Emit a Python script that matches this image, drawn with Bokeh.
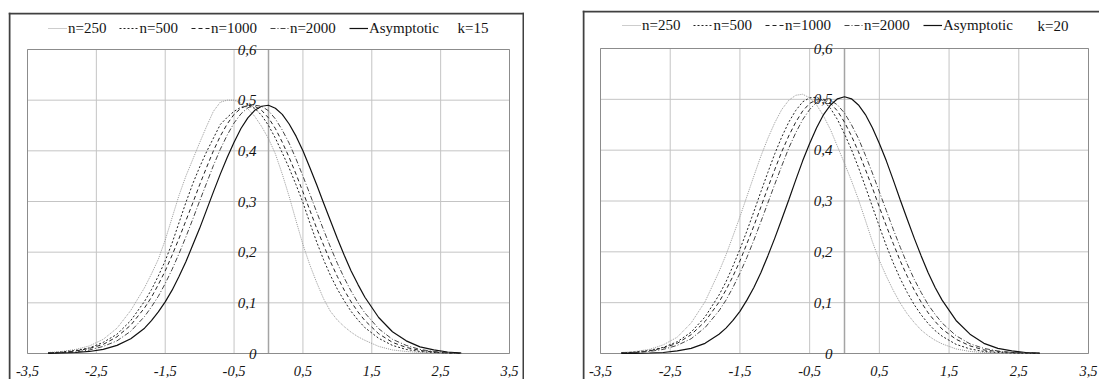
from bokeh.plotting import figure
from bokeh.models import Legend, LegendItem, Range1d
from bokeh.core.properties import value
from bokeh.layouts import row
from bokeh.embed import file_html
from bokeh.resources import INLINE

# ---- data -------------------------------------------------------------
x_grid = [-3.2, -3.0, -2.8, -2.6, -2.4, -2.2, -2.0, -1.8,
          -1.7, -1.6, -1.5, -1.4, -1.3, -1.2, -1.1, -1.0, -0.9, -0.8, -0.7,
          -0.6, -0.5, -0.4, -0.3, -0.2, -0.1, 0.0, 0.1, 0.2, 0.3, 0.4, 0.5,
          0.6, 0.7, 0.8, 0.9, 1.0, 1.1, 1.2, 1.3,
          1.4, 1.6, 1.8, 2.0, 2.2, 2.4, 2.6, 2.8]

series_names = ["n=250", "n=500", "n=1000", "n=2000", "Asymptotic"]

# k = 15
k15_n250 = [0.002, 0.004, 0.008, 0.015, 0.028, 0.050, 0.085, 0.130,
            0.157, 0.186, 0.224, 0.268, 0.312, 0.350, 0.383, 0.416, 0.448, 0.478, 0.496,
            0.500, 0.500, 0.494, 0.483, 0.468, 0.448, 0.424, 0.394, 0.354, 0.310, 0.262, 0.215,
            0.175, 0.140, 0.108, 0.083, 0.066, 0.053, 0.042, 0.033,
            0.026, 0.014, 0.007, 0.004, 0.002, 0.001, 0.0005, 0.0002]
k15_n500 = [0.001, 0.003, 0.006, 0.011, 0.022, 0.038, 0.065, 0.103,
            0.126, 0.153, 0.183, 0.218, 0.258, 0.298, 0.335, 0.368, 0.398, 0.425, 0.452,
            0.466, 0.478, 0.486, 0.489, 0.484, 0.470, 0.450, 0.425, 0.396, 0.366, 0.333, 0.298,
            0.258, 0.220, 0.185, 0.154, 0.127, 0.104, 0.083, 0.066,
            0.051, 0.030, 0.016, 0.008, 0.004, 0.002, 0.001, 0.0003]
k15_n1000 = [0.001, 0.002, 0.005, 0.010, 0.018, 0.033, 0.056, 0.090,
             0.111, 0.136, 0.163, 0.194, 0.227, 0.262, 0.297, 0.333, 0.367, 0.400, 0.429,
             0.453, 0.472, 0.484, 0.490, 0.488, 0.480, 0.465, 0.444, 0.417, 0.387, 0.354, 0.319,
             0.283, 0.247, 0.214, 0.181, 0.152, 0.125, 0.102, 0.082,
             0.065, 0.039, 0.022, 0.012, 0.006, 0.003, 0.001, 0.0005]
k15_n2000 = [0.001, 0.002, 0.003, 0.007, 0.014, 0.025, 0.044, 0.073,
             0.092, 0.113, 0.138, 0.166, 0.197, 0.230, 0.265, 0.301, 0.336, 0.371, 0.403,
             0.431, 0.455, 0.473, 0.485, 0.490, 0.488, 0.479, 0.463, 0.441, 0.415, 0.384, 0.350,
             0.315, 0.279, 0.244, 0.210, 0.178, 0.149, 0.123, 0.100,
             0.080, 0.049, 0.028, 0.016, 0.008, 0.004, 0.002, 0.001]
k15_asym = [0.0003, 0.001, 0.002, 0.004, 0.008, 0.016, 0.029, 0.050,
            0.065, 0.082, 0.102, 0.125, 0.152, 0.181, 0.214, 0.247, 0.283, 0.319, 0.354,
            0.387, 0.417, 0.444, 0.465, 0.480, 0.488, 0.490, 0.484, 0.472, 0.453, 0.429, 0.400,
            0.367, 0.333, 0.297, 0.262, 0.227, 0.194, 0.163, 0.136,
            0.111, 0.071, 0.043, 0.025, 0.013, 0.007, 0.003, 0.001]

# k = 20
k20_n250 = [0.002, 0.004, 0.008, 0.017, 0.032, 0.060, 0.102, 0.161,
            0.194, 0.231, 0.269, 0.309, 0.349, 0.388, 0.423, 0.454, 0.480, 0.498, 0.508,
            0.510, 0.503, 0.489, 0.467, 0.440, 0.407, 0.374, 0.340, 0.303, 0.262, 0.220, 0.183,
            0.152, 0.124, 0.099, 0.078, 0.061, 0.046, 0.035, 0.026,
            0.019, 0.009, 0.004, 0.002, 0.001, 0.0004, 0.0002, 0.0001]
k20_n500 = [0.001, 0.003, 0.006, 0.012, 0.023, 0.042, 0.072, 0.115,
            0.141, 0.172, 0.205, 0.241, 0.279, 0.318, 0.356, 0.393, 0.426, 0.455, 0.478,
            0.495, 0.503, 0.504, 0.497, 0.482, 0.460, 0.432, 0.401, 0.366, 0.328, 0.289, 0.250,
            0.212, 0.178, 0.147, 0.120, 0.096, 0.076, 0.059, 0.045,
            0.034, 0.018, 0.009, 0.004, 0.002, 0.001, 0.0003, 0.0001]
k20_n1000 = [0.001, 0.002, 0.005, 0.011, 0.020, 0.037, 0.063, 0.101,
             0.125, 0.152, 0.182, 0.216, 0.251, 0.288, 0.326, 0.362, 0.397, 0.428, 0.455,
             0.477, 0.492, 0.499, 0.499, 0.492, 0.477, 0.455, 0.428, 0.397, 0.362, 0.326, 0.288,
             0.251, 0.216, 0.182, 0.152, 0.125, 0.101, 0.080, 0.063,
             0.048, 0.028, 0.015, 0.007, 0.004, 0.002, 0.001, 0.0003]
k20_n2000 = [0.001, 0.002, 0.004, 0.008, 0.016, 0.029, 0.051, 0.084,
             0.105, 0.130, 0.158, 0.189, 0.223, 0.259, 0.296, 0.333, 0.369, 0.404, 0.434,
             0.460, 0.480, 0.494, 0.500, 0.498, 0.489, 0.473, 0.450, 0.423, 0.390, 0.355, 0.318,
             0.281, 0.244, 0.209, 0.176, 0.146, 0.120, 0.096, 0.077,
             0.060, 0.035, 0.019, 0.010, 0.005, 0.002, 0.001, 0.0004]
k20_asym = [0.0001, 0.0004, 0.001, 0.002, 0.005, 0.010, 0.020, 0.038,
            0.050, 0.065, 0.083, 0.105, 0.130, 0.159, 0.192, 0.227, 0.264, 0.302, 0.341,
            0.379, 0.413, 0.444, 0.470, 0.489, 0.501, 0.505, 0.501, 0.489, 0.470, 0.444, 0.413,
            0.379, 0.341, 0.302, 0.264, 0.227, 0.192, 0.159, 0.130,
            0.105, 0.065, 0.038, 0.020, 0.010, 0.005, 0.002, 0.001]

x_ticks = [-3.5, -2.5, -1.5, -0.5, 0.5, 1.5, 2.5, 3.5]
x_tick_labels = ["-3,5", "-2,5", "-1,5", "-0,5", "0,5", "1,5", "2,5", "3,5"]
y_ticks = [0.0, 0.1, 0.2, 0.3, 0.4, 0.5, 0.6]
y_tick_labels = ["0", "0,1", "0,2", "0,3", "0,4", "0,5", "0,6"]

# ---- styling ----------------------------------------------------------
SERIF = "'Liberation Serif'"
TEXT_COLOR = "#141414"
GRID_COLOR = "#c4c4c4"
FRAME_COLOR = "#8c8c8c"
AXIS_COLOR = "#a4a4a4"
BOX_COLOR = "#404040"
line_styles = [
    dict(line_color="#9a9a9a", line_dash="1 1", line_width=1),
    dict(line_color="#222222", line_dash="2 2", line_width=1),
    dict(line_color="#222222", line_dash="4 3", line_width=1),
    dict(line_color="#444444", line_dash="5 2 1 2", line_width=1),
    dict(line_color="#111111", line_dash="solid", line_width=1.2),
]


def make_panel(curves, k_text, width, height, frame_px, legend_pos, k_pos,
               box_sides):
    """frame_px = (left, right, top, bottom) of the plotting box, in canvas px."""
    x_lo, x_hi = x_ticks[0], x_ticks[-1]
    y_lo, y_hi = y_ticks[0], y_ticks[-1]
    fl, fr, ft, fb = frame_px
    sx = (fr - fl) / (x_hi - x_lo)
    sy = (fb - ft) / (y_hi - y_lo)
    xr = Range1d(x_lo - fl / sx, x_hi + (width - fr) / sx)
    yr = Range1d(y_lo - (height - fb) / sy, y_hi + ft / sy)

    def to_x(px):
        return xr.start + px / sx

    def to_y(py):
        return yr.end - py / sy

    p = figure(width=width, height=height, output_backend="svg",
               toolbar_location=None, x_range=xr, y_range=yr,
               min_border=0)
    p.axis.visible = False
    p.grid.visible = False
    p.outline_line_color = None
    p.background_fill_color = "white"
    p.border_fill_color = "white"

    # outer chart box (open at the window edges)
    sides = {
        "left": ([to_x(1)], [to_y(0)], [to_x(1)], [to_y(height)]),
        "top": ([to_x(0)], [to_y(1)], [to_x(width)], [to_y(1)]),
        "right": ([to_x(width - 1)], [to_y(0)], [to_x(width - 1)], [to_y(height)]),
    }
    for side in box_sides:
        x0, y0, x1, y1 = sides[side]
        p.segment(x0=x0, y0=y0, x1=x1, y1=y1, line_color=BOX_COLOR,
                  line_width=2)

    # grid
    p.segment(x0=x_ticks, y0=[y_lo] * len(x_ticks), x1=x_ticks,
              y1=[y_hi] * len(x_ticks), line_color=GRID_COLOR, line_width=1)
    p.segment(x0=[x_lo] * len(y_ticks), y0=y_ticks, x1=[x_hi] * len(y_ticks),
              y1=y_ticks, line_color=GRID_COLOR, line_width=1)
    # vertical axis through x = 0
    p.segment(x0=[0.0], y0=[y_lo], x1=[0.0], y1=[y_hi],
              line_color=AXIS_COLOR, line_width=1.5)
    # plotting box
    p.quad(left=[x_lo], right=[x_hi], bottom=[y_lo], top=[y_hi],
           fill_color=None, line_color=FRAME_COLOR, line_width=1)

    items = []
    for name, ys, st in zip(series_names, curves, line_styles):
        r = p.line(x_grid, ys, **st)
        items.append(LegendItem(label=name, renderers=[r]))

    # tick labels
    p.text(x=[0.0] * len(y_ticks), y=y_ticks, text=y_tick_labels,
           x_offset=-12, text_align="right", text_baseline="middle",
           text_font=value(SERIF), text_font_style="italic",
           text_font_size="15px", text_color=TEXT_COLOR)
    p.text(x=x_ticks, y=[y_lo] * len(x_ticks), text=x_tick_labels,
           y_offset=17, text_align="center", text_baseline="middle",
           text_font=value(SERIF), text_font_style="italic",
           text_font_size="14.5px", text_color=TEXT_COLOR)

    legend = Legend(items=items, orientation="horizontal",
                    location=legend_pos, glyph_width=19, glyph_height=12,
                    label_standoff=1, spacing=13, padding=0, margin=0,
                    label_height=20,
                    border_line_alpha=0, background_fill_alpha=0,
                    label_text_font=SERIF, label_text_font_size="15px",
                    label_text_color=TEXT_COLOR)
    p.add_layout(legend)

    p.text(x=[k_pos[0]], y=[k_pos[1]], text=[k_text], text_baseline="middle",
           text_font=value(SERIF), text_font_size="15px",
           text_color=TEXT_COLOR)
    return p


p1 = make_panel([k15_n250, k15_n500, k15_n1000, k15_n2000, k15_asym],
                "k=15", 516, 367, (19, 501, 37, 341), (40, 341), (2.745, 0.642),
                ("left", "top", "right"))
p1.margin = (12, 0, 0, 8)

p2 = make_panel([k20_n250, k20_n500, k20_n1000, k20_n2000, k20_asym],
                "k=20", 517, 369, (18, 506, 38, 343), (40, 344), (2.77, 0.644),
                ("left", "top"))
p2.margin = (10, 0, 0, 58)

layout = row(p1, p2)
open("out.html", "w").write(file_html(layout, INLINE))
